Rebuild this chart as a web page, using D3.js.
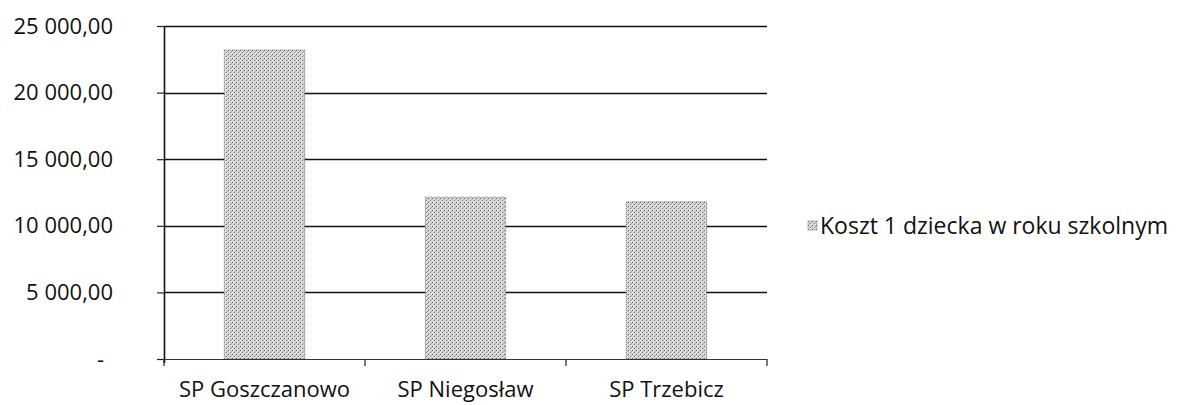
<!DOCTYPE html>
<html>
<head>
<meta charset="utf-8">
<script src="https://cdn.jsdelivr.net/npm/d3@7"></script>
<style>
  body { margin: 0; background: #fff; }
  svg { display: block; }
</style>
</head>
<body>
<div id="chart"></div>
<script>
// Chart data
var categories = ["SP Goszczanowo", "SP Niegosław", "SP Trzebicz"];
var values = [23200, 12150, 11800];
var yTicks = [0, 5000, 10000, 15000, 20000, 25000];
var seriesName = "Koszt 1 dziecka w roku szkolnym";

var width = 1179, height = 405;
var margin = {top: 26, left: 164, right: 412, bottom: 46};
var plotW = width - margin.left - margin.right,
    plotH = height - margin.top - margin.bottom;
var font = "'Open Sans', sans-serif";

// formatting like "25 000,00", zero shown as "-"
var fmt = function(d) {
  if (d === 0) return "-";
  var s = d3.format(",.2f")(d);
  return s.replace(/,/g, " ").replace(".", ",");
};

var svg = d3.select("#chart").append("svg")
  .attr("width", width)
  .attr("height", height);

// dotted grey fill like the scan
var defs = svg.append("defs");
var pat = defs.append("pattern")
  .attr("id", "dots")
  .attr("width", 4).attr("height", 4)
  .attr("patternUnits", "userSpaceOnUse");
pat.append("rect").attr("width", 4).attr("height", 4).attr("fill", "#d8d8d8");
pat.append("rect").attr("x", 0).attr("y", 0).attr("width", 1).attr("height", 1).attr("fill", "#666");
pat.append("rect").attr("x", 2).attr("y", 2).attr("width", 1).attr("height", 1).attr("fill", "#777");
pat.append("rect").attr("x", 3).attr("y", 1).attr("width", 1).attr("height", 1).attr("fill", "#aaa");

var g = svg.append("g")
  .attr("transform", "translate(" + margin.left + "," + margin.top + ")");

var x = d3.scaleBand()
  .domain(categories)
  .range([0, plotW])
  .paddingInner(0.6)
  .paddingOuter(0.3);

var xTickScale = d3.scaleLinear()
  .domain([0, categories.length])
  .range([0, plotW]);

var y = d3.scaleLinear()
  .domain([0, 25000])
  .range([plotH, 0]);

// gridlines
g.append("g")
  .selectAll("line")
  .data(yTicks.filter(function(d) { return d > 0; }))
  .enter().append("line")
  .attr("x1", 0).attr("x2", plotW)
  .attr("y1", function(d) { return Math.round(y(d)) + 0.5; })
  .attr("y2", function(d) { return Math.round(y(d)) + 0.5; })
  .style("stroke", "#111")
  .style("stroke-width", 1.4);

// y axis
var yAxis = d3.axisLeft(y)
  .tickValues(yTicks)
  .tickSize(7)
  .tickPadding(44)
  .tickFormat(fmt);
var ya = g.append("g").call(yAxis);
ya.select(".domain").remove();
ya.selectAll(".tick line").style("stroke", "#222").style("stroke-width", 1.2);
ya.selectAll(".tick text")
  .style("font-family", font)
  .style("font-size", "22px")
  .style("fill", "#111")
  .attr("dx", function(d) { return d === 0 ? -9 : 0; });

g.append("line")
  .attr("x1", 0.5).attr("x2", 0.5)
  .attr("y1", 0).attr("y2", plotH + 4)
  .style("stroke", "#111")
  .style("stroke-width", 1.6);

// bars
g.selectAll(".bar")
  .data(values)
  .enter().append("rect")
  .attr("class", "bar")
  .attr("x", function(d, i) { return x(categories[i]); })
  .attr("width", x.bandwidth())
  .attr("y", function(d) { return y(d); })
  .attr("height", function(d) { return plotH - y(d); })
  .style("fill", "url(#dots)")
  .style("stroke", "#777")
  .style("stroke-width", 1)
  .style("stroke-dasharray", "1,1");

// x axis baseline and ticks
g.append("line")
  .attr("x1", 0).attr("x2", plotW)
  .attr("y1", plotH + 0.5).attr("y2", plotH + 0.5)
  .style("stroke", "#333")
  .style("stroke-width", 1.2);

g.append("g")
  .selectAll("line")
  .data(d3.range(categories.length + 1))
  .enter().append("line")
  .attr("x1", function(d) { return xTickScale(d); })
  .attr("x2", function(d) { return xTickScale(d); })
  .attr("y1", plotH)
  .attr("y2", plotH + 7)
  .style("stroke", "#222")
  .style("stroke-width", 1.2);

g.append("g")
  .selectAll("text")
  .data(categories)
  .enter().append("text")
  .attr("x", function(d) { return x(d) + x.bandwidth() / 2; })
  .attr("y", plotH + 38)
  .attr("text-anchor", "middle")
  .style("font-family", font)
  .style("font-size", "22px")
  .style("fill", "#111")
  .text(function(d) { return d; });

// legend
var legend = svg.append("g")
  .attr("transform", "translate(808,221)");
legend.append("rect")
  .attr("width", 9).attr("height", 9)
  .style("fill", "url(#dots)")
  .style("stroke", "#888")
  .style("stroke-width", 0.6);
legend.append("text")
  .attr("x", 12)
  .attr("y", 13)
  .style("font-family", font)
  .style("font-size", "23px")
  .style("fill", "#111")
  .text(seriesName);
</script>
</body>
</html>
